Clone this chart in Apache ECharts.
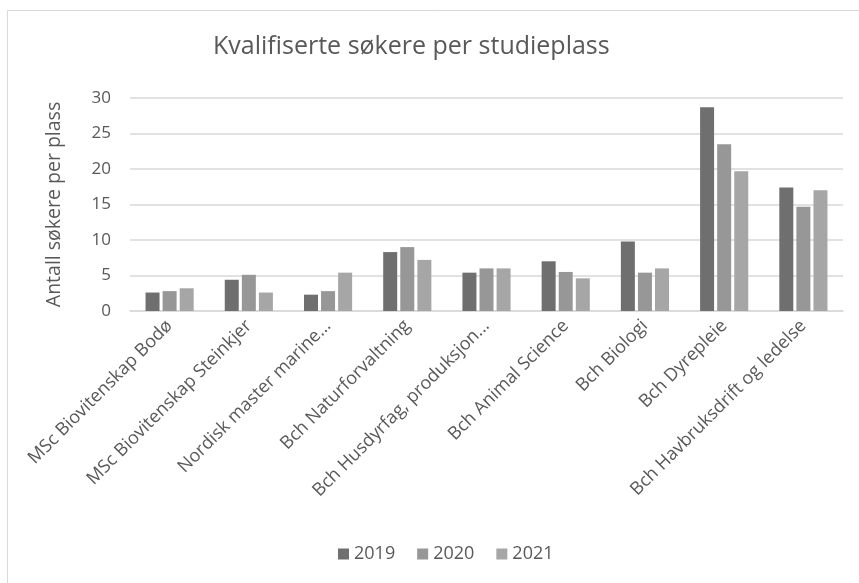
<!DOCTYPE html>
<html>
<head>
<meta charset="utf-8">
<script src="https://cdn.jsdelivr.net/npm/echarts@6/dist/echarts.min.js"></script>
<style>
  html, body { margin: 0; padding: 0; background: #fff; }
  #main { width: 859px; height: 583px; }
</style>
</head>
<body>
<div id="main"></div>
<script>
// data
var categories = [
    'MSc Biovitenskap Bodø',
    'MSc Biovitenskap Steinkjer',
    'Nordisk master marine...',
    'Bch Naturforvaltning',
    'Bch Husdyrfag, produksjon...',
    'Bch Animal Science',
    'Bch Biologi',
    'Bch Dyrepleie',
    'Bch Havbruksdrift og ledelse'
];
var years = ['2019', '2020', '2021'];
var values2019 = [2.6, 4.4, 2.3, 8.3, 5.4, 7.0, 9.8, 28.7, 17.4];
var values2020 = [2.8, 5.1, 2.8, 9.0, 6.0, 5.5, 5.4, 23.5, 14.7];
var values2021 = [3.2, 2.6, 5.4, 7.2, 6.0, 4.6, 6.0, 19.7, 17.0];
var yTicks = [0, 5, 10, 15, 20, 25, 30];

var colors = ['#6f6f6f', '#979797', '#a6a6a6'];
var font = 'Open Sans';

var myChart = echarts.init(document.getElementById('main'));

var seriesData = [values2019, values2020, values2021];
var series = [];
for (var i = 0; i < years.length; i++) {
    series.push({
        name: years[i],
        type: 'bar',
        data: seriesData[i],
        barWidth: 14,
        barGap: '22%',
        itemStyle: { color: colors[i] }
    });
}

var option = {
    animation: false,
    backgroundColor: '#fff',
    color: colors,
    textStyle: { fontFamily: font },
    title: {
        text: 'Kvalifiserte søkere per studieplass',
        left: 208,
        top: 29,
        textStyle: { fontFamily: font, fontSize: 25, fontWeight: 'normal', color: '#595959' }
    },
    legend: {
        data: years,
        top: 540,
        left: 333,
        itemWidth: 11,
        itemHeight: 11,
        itemGap: 22,
        icon: 'rect',
        textStyle: { fontFamily: font, fontSize: 18, color: '#595959' }
    },
    grid: { left: 130, right: 16, top: 98, bottom: 272, containLabel: false },
    xAxis: {
        type: 'category',
        data: categories,
        axisLine: { lineStyle: { color: '#d9d9d9', width: 1.5 } },
        axisTick: { show: false },
        axisLabel: {
            rotate: 45,
            interval: 0,
            margin: 12,
            fontFamily: font,
            fontSize: 18,
            color: '#595959'
        }
    },
    yAxis: {
        type: 'value',
        min: yTicks[0],
        max: yTicks[yTicks.length - 1],
        interval: 5,
        name: 'Antall søkere per plass',
        nameLocation: 'middle',
        nameRotate: 90,
        nameGap: 66,
        nameTextStyle: { fontFamily: font, fontSize: 19.5, color: '#595959' },
        axisLine: { show: false },
        axisTick: { show: false },
        axisLabel: { fontFamily: font, fontSize: 17, color: '#595959', margin: 19 },
        splitLine: { lineStyle: { color: '#d9d9d9', width: 1.5 } }
    },
    graphic: [{
        type: 'rect',
        shape: { x: 7.5, y: 10.5, width: 900, height: 600 },
        style: { fill: 'none', stroke: '#d9d9d9', lineWidth: 1 },
        silent: true
    }],
    series: series
};

myChart.setOption(option);
</script>
</body>
</html>
